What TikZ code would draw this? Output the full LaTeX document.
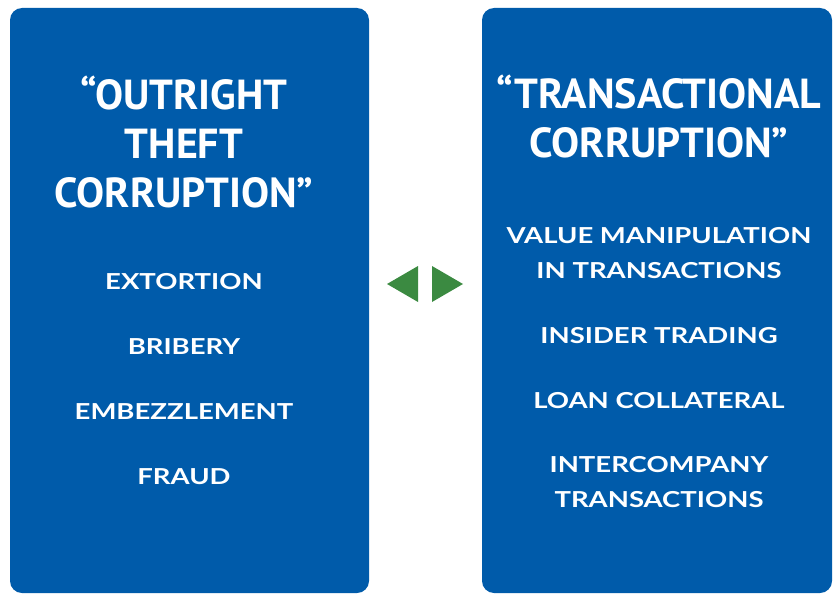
\documentclass[tikz,border=0pt]{standalone}
\usepackage{fontspec}
\usetikzlibrary{positioning,calc}
\newfontfamily\titlefont{PT Sans}
\newfontfamily\itemfont{Lato}[FakeStretch=1.25]
\definecolor{boxblue}{RGB}{0,91,170}
\definecolor{arrgreen}{RGB}{59,138,65}
\tikzset{panel/.style={fill=boxblue,rounded corners=12pt,inner sep=0pt},
  title/.style={text=white,align=center,anchor=base,font=\titlefont\bfseries\fontsize{42}{49}\selectfont},
  entry/.style={text=white,align=center,anchor=base,font=\itemfont\bfseries\fontsize{22}{35}\selectfont}}

\begin{document}
\begin{tikzpicture}[x=1pt,y=-1pt]
          \useasboundingbox (0,0) rectangle (833,594);

          % the two panels
          \fill[panel] (10,8) rectangle (369,593);
          \fill[panel] (482,8) rectangle (832,593);
          \coordinate (L) at (184,0);
          \coordinate (R) at (659,0);

          % titles (base = last line)
          \node (tl) [title] at ($(L)+(0,207)$) {“OUTRIGHT\\THEFT\\CORRUPTION”};
          \node (tr) [title] at ($(R)+(0,157)$) {“TRANSACTIONAL\\CORRUPTION”};

          % left entries
          \foreach \y/\t/\n in {289/EXTORTION/1, 354/BRIBERY/2, 419/EMBEZZLEMENT/3, 484/FRAUD/4}
          {\node (l-\n) [entry] at ($(L)+(0,\y)$) {\t};}

          % right entries
          \foreach \y/\t/\n in {278/{VALUE MANIPULATION\\IN TRANSACTIONS}/1, 343/INSIDER TRADING/2, 408/LOAN COLLATERAL/3, 507/{INTERCOMPANY\\TRANSACTIONS}/4}
          {\node (r-\n) [entry] at ($(R)+(0,\y)$) {\t};}

          % arrows between panels
          \fill[arrgreen] (387,284) -- (418,266) -- (418,302) -- cycle;
          \fill[arrgreen] (463,284) -- (432,266) -- (432,302) -- cycle;
\end{tikzpicture}
\end{document}
